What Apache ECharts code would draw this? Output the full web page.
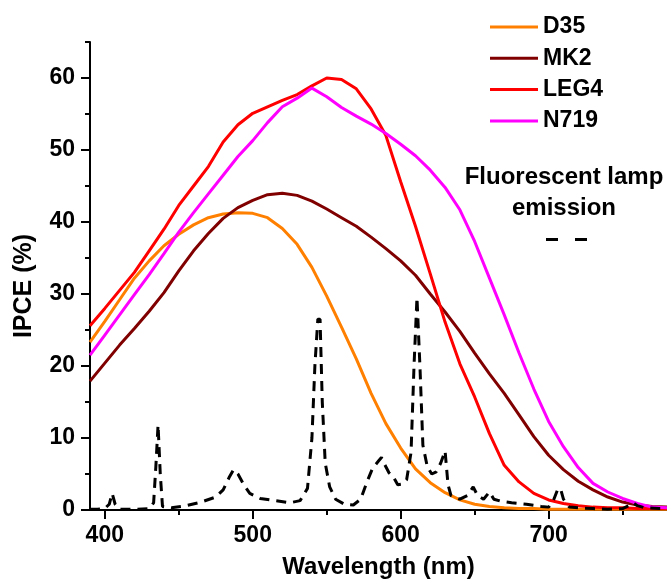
<!DOCTYPE html>
<html><head><meta charset="utf-8">
<script src="https://cdn.jsdelivr.net/npm/echarts@6/dist/echarts.min.js"></script>
<style>html,body{margin:0;padding:0;background:#fff}#c{width:667px;height:580px}</style>
</head><body><div id="c"></div>
<script>
const FONT = "'Liberation Sans', Arial, sans-serif";

const wavelengths = [390,400,410,420,430,440,450,460,470,480,490,500,510,520,530,540,550,560,570,580,590,600,610,620,630,640,650,660,670,680,690,700,710,720,730,740,750,760,770,780];
const d35  = [23.3,26.2,29.2,32.2,34.6,36.7,38.3,39.6,40.6,41.1,41.3,41.2,40.6,39.1,36.9,33.7,29.7,25.4,21.0,16.2,12.0,8.6,5.7,3.8,2.4,1.4,0.8,0.5,0.3,0.2,0.2,0.1,0.1,0.1,0.1,0.1,0.1,0.1,0.1,0.1];
const mk2  = [17.9,20.4,22.9,25.2,27.6,30.2,33.2,36.0,38.4,40.5,42.0,43.0,43.8,44.0,43.7,42.9,41.8,40.6,39.4,37.9,36.3,34.6,32.6,30.0,27.5,24.8,21.8,18.9,16.2,13.2,10.2,7.6,5.6,4.0,2.8,1.8,1.1,0.7,0.5,0.4];
const leg4 = [25.6,28.0,30.5,33.0,36.0,39.0,42.3,45.0,47.7,51.1,53.5,55.1,56.0,56.9,57.7,58.9,60.0,59.8,58.5,55.7,52.0,45.6,39.4,32.8,26.1,20.3,15.7,10.6,6.2,3.9,2.3,1.4,0.9,0.6,0.4,0.3,0.3,0.2,0.2,0.2];
const n719 = [21.5,24.3,27.1,29.9,32.7,35.6,38.6,41.3,43.9,46.5,49.1,51.3,53.8,56.0,57.2,58.6,57.4,55.9,54.7,53.6,52.3,50.8,49.2,47.2,44.8,41.7,37.3,32.2,27.1,21.8,16.8,12.3,8.8,5.9,3.7,2.5,1.6,0.9,0.4,0.3];

const lampWl  = [390,395,400,403,405,407,410,420,430,433,434.5,436,437.5,439,445,455,465,475,480,484,487,490,494,498,505,515,525,532,537,540,542,544,545.5,547,549,552,556,562,568,573,577,581,585,587,589,592,595,598,601,604,607,609,611,613,615,618,621,624,627,630,632,634,640,645,649,652,656,660,663,668,675,685,695,700,703,706,708,710,714,720,730,740,750,754,757,760,765,775,780];
const lampVal = [0.1,0.1,0.2,0.8,2.3,0.8,0.1,0.1,0.2,1.0,6.0,11.8,5.0,0.5,0.3,0.6,1.1,1.8,2.8,4.5,5.6,5.0,3.5,2.3,1.6,1.3,1.0,1.3,3.0,10.0,20.0,26.5,26.5,15.0,6.5,3.2,1.5,0.8,0.7,1.5,3.8,5.8,6.8,7.3,6.4,5.2,4.6,3.5,3.6,4.2,8.0,20.0,29.5,20.0,9.0,6.0,5.0,5.3,6.5,8.2,3.5,2.0,1.5,2.0,3.2,2.0,1.5,2.5,1.5,1.2,1.0,0.8,0.5,0.4,1.2,2.8,3.0,1.5,0.4,0.3,0.2,0.1,0.2,0.6,1.0,0.6,0.3,0.2,0.2];

const xMajor = [400,500,600,700];
const xMinor = [450,550,650,750];
const yMajor = [0,10,20,30,40,50,60];
const yMinor = [5,15,25,35,45,55,65];

const seriesNames = ['D35','MK2','LEG4','N719'];
const seriesColors = ['#FF8000','#800000','#FF0000','#FF00FF'];
const seriesValues = [d35, mk2, leg4, n719];

const chart = echarts.init(document.getElementById('c'), null, {renderer:'canvas'});

const axisBase = {
  type:'value', splitLine:{show:false},
  axisLine:{onZero:false, lineStyle:{color:'#000', width:2}}
};
const lbl = {color:'#000', fontFamily:FONT, fontWeight:'bold', fontSize:23};

const series = seriesNames.map((n,i)=>({
  name:n, type:'line', symbol:'none', smooth:false,
  xAxisIndex:0, yAxisIndex:0,
  lineStyle:{color:seriesColors[i], width:3},
  itemStyle:{color:seriesColors[i]},
  data: wavelengths.map((w,k)=>[w, seriesValues[i][k]])
}));
series.push({
  name:'Fluorescent lamp emission', type:'line', symbol:'none',
  xAxisIndex:0, yAxisIndex:0,
  lineStyle:{color:'#000', width:3, type:[10,7]},
  itemStyle:{color:'#000'},
  data: lampWl.map((w,k)=>[w, lampVal[k]])
});

chart.setOption({
  animation:false,
  backgroundColor:'#fff',
  grid:{left:90, right:0, top:42, bottom:70, containLabel:false, outerBoundsMode:'none'},
  xAxis:[
    Object.assign({}, axisBase, {
      min:390, max:780, position:'bottom',
      axisTick:{show:true, customValues:xMajor, length:9, lineStyle:{color:'#000', width:2}},
      axisLabel:Object.assign({customValues:xMajor, margin:14}, lbl),
      name:'Wavelength (nm)', nameLocation:'middle', nameGap:45,
      nameTextStyle:{color:'#000', fontFamily:FONT, fontWeight:'bold', fontSize:24}
    }),
    Object.assign({}, axisBase, {
      min:390, max:780, position:'bottom',
      axisLine:{show:false, onZero:false},
      axisTick:{show:true, customValues:xMinor, length:5, lineStyle:{color:'#000', width:2}},
      axisLabel:{show:false}
    })
  ],
  yAxis:[
    Object.assign({}, axisBase, {
      min:0, max:65, position:'left',
      axisTick:{show:true, customValues:yMajor, length:9, lineStyle:{color:'#000', width:2}},
      axisLabel:Object.assign({customValues:yMajor, margin:15}, lbl),
      name:'IPCE (%)', nameLocation:'middle', nameGap:53,
      nameTextStyle:{color:'#000', fontFamily:FONT, fontWeight:'bold', fontSize:25, padding:[0,20,0,0]}
    }),
    Object.assign({}, axisBase, {
      min:0, max:65, position:'left',
      axisLine:{show:false, onZero:false},
      axisTick:{show:true, customValues:yMinor, length:5, lineStyle:{color:'#000', width:2}},
      axisLabel:{show:false}
    })
  ],
  legend:{
    data:seriesNames, orient:'vertical', left:490, top:15, padding:0,
    icon:'rect', itemWidth:48, itemHeight:3, itemGap:7.3,
    textStyle:{color:'#000', fontFamily:FONT, fontWeight:'bold', fontSize:23, lineHeight:24}
  },
  graphic:[
    {type:'text', x:564, y:177, style:{text:'Fluorescent lamp', fill:'#000', font:"bold 24px "+FONT, textAlign:'center', textVerticalAlign:'middle'}},
    {type:'text', x:564, y:208, style:{text:'emission', fill:'#000', font:"bold 24px "+FONT, textAlign:'center', textVerticalAlign:'middle'}},
    {type:'line', shape:{x1:546, y1:239.5, x2:587, y2:239.5}, style:{stroke:'#000', lineWidth:3, lineDash:[12,17]}}
  ],
  series: series
});
</script></body></html>
